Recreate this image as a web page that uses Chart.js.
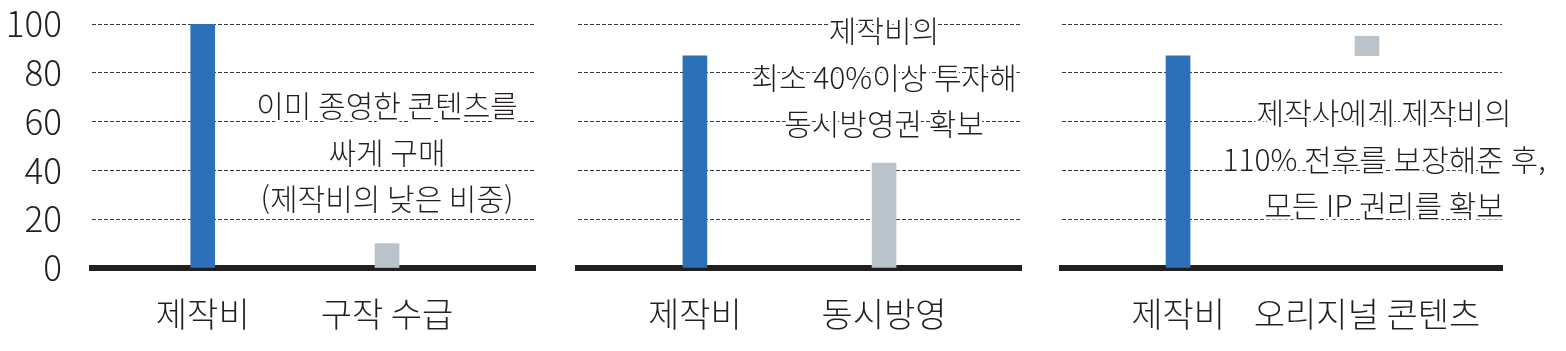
<!DOCTYPE html>
<html lang="ko">
<head>
<meta charset="utf-8">
<script src="https://cdn.jsdelivr.net/npm/chart.js@4/dist/chart.umd.min.js"></script>
<style>
    html, body { margin: 0; padding: 0; background: #fff; }
    body { width: 1566px; height: 351px; position: relative; overflow: hidden; }
    .panel { position: absolute; top: 0; height: 351px; }
</style>
</head>
<body>
<div class="panel" style="left:0;width:540px"><canvas id="chart1"></canvas></div>
<div class="panel" style="left:560px;width:480px"><canvas id="chart2"></canvas></div>
<div class="panel" style="left:1040px;width:526px"><canvas id="chart3"></canvas></div>
<script>
// 세 패널 데이터 (제작비 = 100 기준)
const yTicks = [0, 20, 40, 60, 80, 100];

const categories1 = ["제작비", "구작 수급"];
const values1 = [100, 10];
const note1 = ["이미 종영한 콘텐츠를", "싸게 구매", "(제작비의 낮은 비중)"];

const categories2 = ["제작비", "동시방영"];
const values2 = [87, 43];
const note2 = ["제작비의", "최소 40%이상 투자해", "동시방영권 확보"];

const categories3 = ["제작비", "오리지널 콘텐츠"];
const values3 = [87, [87, 95]];   // 오리지널은 제작비 위에 얹힌 막대
const note3 = ["제작사에게 제작비의", "110% 전후를 보장해준 후,", "모든 IP 권리를 확보"];

const BAR_COLORS = ["#2c70b7", "#bac3ca"];
const INK = "#231f20";
const FONT = "'Noto Sans CJK KR', 'Noto Sans', sans-serif";

// 막대 위쪽 설명 문구: 흰 테두리로 점선을 지우고 글자를 얹는다
const notePlugin = {
    id: "note",
    afterDatasetsDraw(chart, args, opts) {
        const ctx = chart.ctx;
        const x = chart.scales.x.getPixelForValue(1) + opts.dx;
        ctx.save();
        ctx.font = "300 30px " + FONT;
        ctx.textAlign = "center";
        ctx.textBaseline = "middle";
        ctx.lineJoin = "round";
        opts.lines.forEach((line, i) => {
            const y = opts.top + i * opts.gap;
            ctx.strokeStyle = "#fff";
            ctx.lineWidth = 6;
            ctx.strokeText(line, x, y);
            ctx.fillStyle = INK;
            ctx.fillText(line, x, y);
        });
        ctx.restore();
    }
};

// 축 라벨 때문에 차트 영역이 줄어들지 않도록 여백을 없앤다
function noPadding(scale) {
    scale.paddingTop = 0;
    scale.paddingBottom = 0;
    scale.paddingLeft = 0;
    scale.paddingRight = 0;
}

function makeChart(id, categories, values, note, layout) {
    return new Chart(document.getElementById(id), {
        type: "bar",
        data: {
            datasets: [{
                data: values.map((v, i) => ({ x: i, y: v })),
                backgroundColor: BAR_COLORS,
                barThickness: 24,
                borderSkipped: false
            }]
        },
        options: {
            responsive: true,
            maintainAspectRatio: false,
            animation: false,
            layout: { padding: { top: 24, right: layout.right, left: 0, bottom: 0 } },
            plugins: {
                legend: { display: false },
                tooltip: { enabled: false },
                note: { lines: note, dx: layout.noteDx, top: layout.noteTop, gap: 46.5 }
            },
            scales: {
                x: {
                    type: "linear",
                    offset: false,
                    min: layout.xMin,
                    max: layout.xMax,
                    afterBuildTicks: (scale) => { scale.ticks = categories.map((c, i) => ({ value: i })); },
                    afterFit: (scale) => { scale.height = 83; noPadding(scale); },
                    ticks: {
                        callback: (v) => categories[v],
                        color: INK,
                        font: { family: FONT, size: 34, weight: "300" },
                        padding: 26,
                        maxRotation: 0,
                        autoSkip: false
                    },
                    grid: { display: false, drawTicks: false },
                    border: { display: true, color: INK, width: 6 }
                },
                y: {
                    min: 0,
                    max: 100,
                    afterBuildTicks: (scale) => { scale.ticks = yTicks.map((v) => ({ value: v })); },
                    afterFit: (scale) => { scale.width = layout.yWidth; noPadding(scale); },
                    ticks: {
                        display: layout.showY,
                        color: INK,
                        font: { family: FONT, size: 35, weight: "300" },
                        padding: 30
                    },
                    grid: { color: "#3a3a3a", lineWidth: 1, drawTicks: false },
                    border: { display: false, dash: [4, 2] }
                }
            }
        },
        plugins: [notePlugin]
    });
}

makeChart("chart1", categories1, values1, note1,
    { right: 5, yWidth: 92, showY: true, xMin: -0.601, xMax: 1.803, noteDx: 0, noteTop: 106 });
makeChart("chart2", categories2, values2, note2,
    { right: 19, yWidth: 18, showY: false, xMin: -0.618, xMax: 1.724, noteDx: 0, noteTop: 31 });
makeChart("chart3", categories3, values3, note3,
    { right: 64, yWidth: 22, showY: false, xMin: -0.614, xMax: 1.714, noteDx: 17, noteTop: 113 });
</script>
</body>
</html>
